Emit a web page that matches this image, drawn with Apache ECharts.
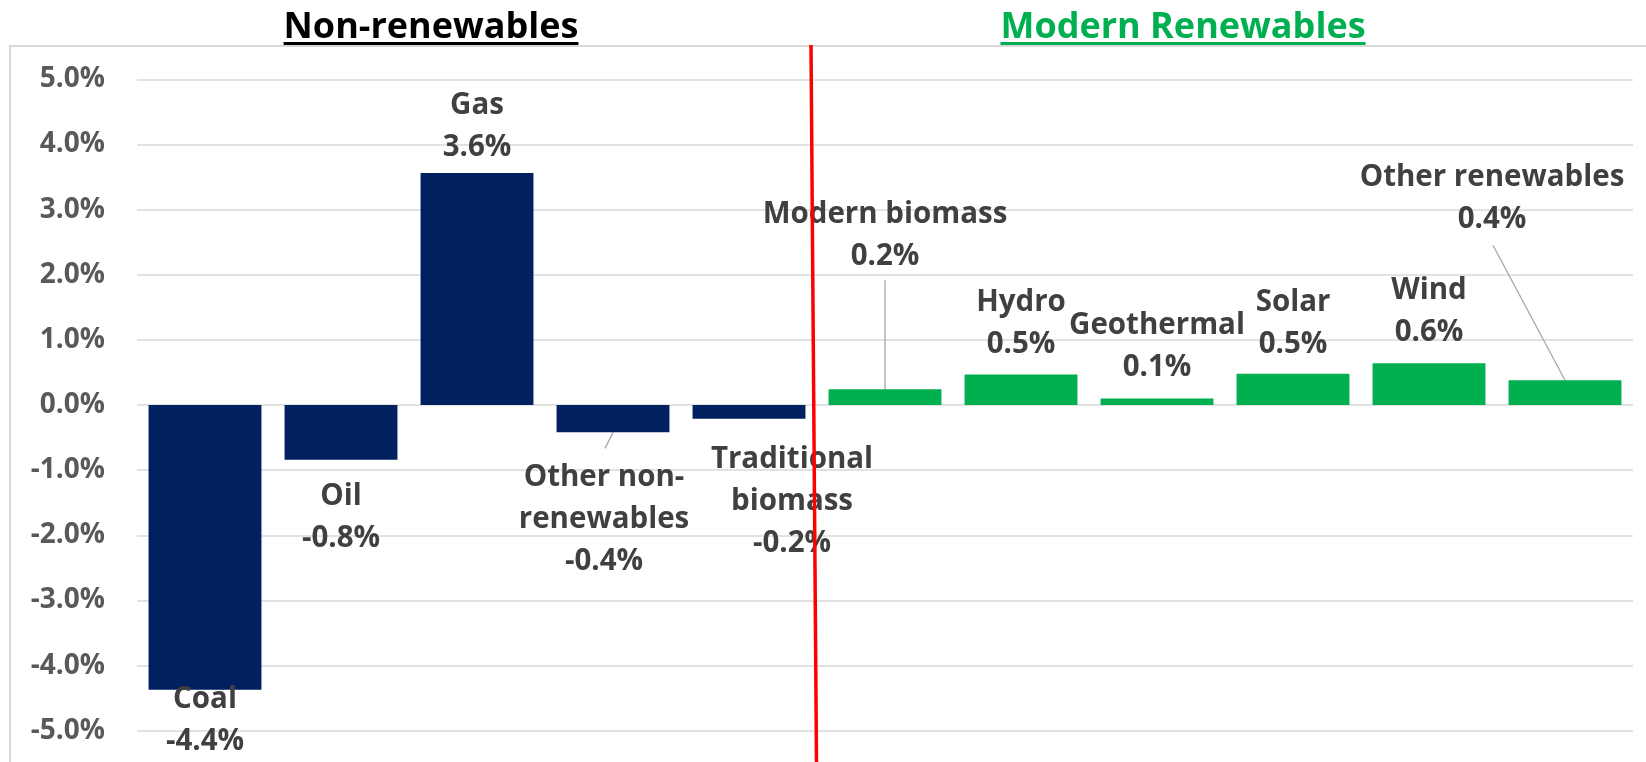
<!DOCTYPE html>
<html><head><meta charset="utf-8">
<script src="https://cdn.jsdelivr.net/npm/echarts@6/dist/echarts.min.js"></script>
<style>html,body{margin:0;padding:0;background:#fff}#c{width:1646px;height:762px}</style>
</head><body><div id="c"></div>
<script>
// ---- data ----
const categories = ['Coal','Oil','Gas','Other non-renewables','Traditional biomass','Modern biomass','Hydro','Geothermal','Solar','Wind','Other renewables'];
const labelNames = ['Coal','Oil','Gas','Other non-\nrenewables','Traditional\nbiomass','Modern biomass','Hydro','Geothermal','Solar','Wind','Other renewables'];
const values = [-4.37,-0.84,3.56,-0.42,-0.21,0.24,0.47,0.10,0.48,0.64,0.38];
const isRenewable = [false,false,false,false,false,true,true,true,true,true,true];
const groupTitles = ['Non-renewables','Modern Renewables'];
const yMin = -5, yMax = 5, yStep = 1;

// ---- layout / style (not data) ----
const labelOffsets = [[0,-11],[0,16],[0,-5],[-9,24],[43,20],[0,-112],[0,-9],[0,-10],[0,-8],[0,-10],[-73,-140]];
const leaders = [{i:3,d:[-8,16]},{i:5,d:[0,-109]},{i:10,d:[-72,-135]}];
const FONT = 'Open Sans';

const chart = echarts.init(document.getElementById('c'), null, {renderer:'canvas'});
const data = values.map((v,i)=>({
  value:v,
  itemStyle:{color: isRenewable[i] ? '#00B050' : '#002060'},
  label:{position: v<0 ? 'bottom' : 'top', offset: labelOffsets[i]}
}));
chart.setOption({
  animation:false,
  grid:{left:137,right:13,top:79.3,bottom:31.3},
  xAxis:{type:'category',data:categories,axisLine:{show:false},axisTick:{show:false},axisLabel:{show:false},splitLine:{show:false}},
  yAxis:{type:'value',min:yMin,max:yMax,interval:yStep,
    axisLabel:{formatter:v=>v.toFixed(1)+'%',color:'#595959',fontFamily:FONT,fontWeight:'bold',fontSize:28,margin:32},
    splitLine:{lineStyle:{color:'#d9d9d9',width:1.5}},axisLine:{show:false},axisTick:{show:false}},
  series:[{type:'bar',data,barCategoryGap:'17%',
    label:{show:true,distance:0,formatter:p=>labelNames[p.dataIndex]+'\n'+p.value.toFixed(1)+'%',
      color:'#404040',fontFamily:FONT,fontWeight:'bold',fontSize:29.5,lineHeight:42,align:'center'}}]
});

// ---- decorations computed from the chart's scales ----
const toPx = (i,v)=>chart.convertToPixel({xAxisIndex:0,yAxisIndex:0},[i,v]);
const boundaryX = (toPx(4,0)[0] + toPx(5,0)[0]) / 2;
const TITLE_FONT = 'bold 36px "' + FONT + '"';
const ctx = document.createElement('canvas').getContext('2d');
ctx.font = TITLE_FONT;
const titleDefs = [{text:groupTitles[0],x:431,color:'#000000'},{text:groupTitles[1],x:1183,color:'#00B050'}];
const graphics = [];
graphics.push({type:'rect',z:-10,shape:{x:10,y:46,width:2000,height:1000},style:{fill:null,stroke:'#d9d9d9',lineWidth:2}});
titleDefs.forEach(t=>{
  const w = ctx.measureText(t.text).width;
  graphics.push({type:'text',x:t.x,y:28,style:{text:t.text,fill:t.color,font:TITLE_FONT,align:'center',verticalAlign:'middle'}});
  graphics.push({type:'line',shape:{x1:t.x-w/2,y1:43.5,x2:t.x+w/2,y2:43.5},style:{stroke:t.color,lineWidth:3}});
});
graphics.push({type:'line',z:100,shape:{x1:boundaryX-6,y1:45,x2:boundaryX-0.5,y2:762},style:{stroke:'#FF0000',lineWidth:3.5}});
leaders.forEach(l=>{
  const p = toPx(l.i, values[l.i]);
  graphics.push({type:'line',shape:{x1:p[0],y1:p[1],x2:p[0]+l.d[0],y2:p[1]+l.d[1]},style:{stroke:'#a6a6a6',lineWidth:1.3}});
});
chart.setOption({graphic:graphics});
</script>
</body></html>
